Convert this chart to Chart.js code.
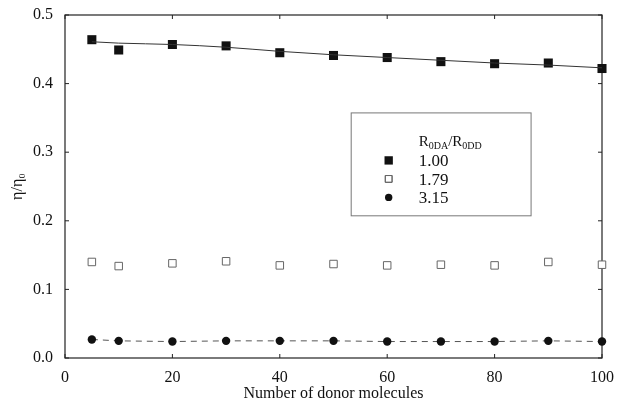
<!DOCTYPE html>
<html>
<head>
<meta charset="utf-8">
<script src="https://cdn.jsdelivr.net/npm/chart.js@4/dist/chart.umd.min.js"></script>
<style>
  html, body { margin: 0; padding: 0; background: #fff; }
  #wrap { width: 620px; height: 404px; }
</style>
</head>
<body>
<div id="wrap"><canvas id="chart" width="620" height="404"></canvas></div>
<script>
const donors = [5, 10, 20, 30, 40, 50, 60, 70, 80, 90, 100];
const ratio100 = [0.464, 0.449, 0.457, 0.455, 0.445, 0.441, 0.438, 0.432, 0.429, 0.430, 0.422];
const fit100 = [0.461, 0.459, 0.457, 0.453, 0.447, 0.442, 0.438, 0.434, 0.430, 0.427, 0.423];
const ratio179 = [0.140, 0.134, 0.138, 0.141, 0.135, 0.137, 0.135, 0.136, 0.135, 0.140, 0.136];
const ratio315 = [0.027, 0.025, 0.024, 0.025, 0.025, 0.025, 0.024, 0.024, 0.024, 0.025, 0.024];
const legendLabels = ['1.00', '1.79', '3.15'];
const yTicks = [0, 0.1, 0.2, 0.3, 0.4, 0.5];
const xTicks = [0, 20, 40, 60, 80, 100];

const SERIF = '"Liberation Serif", "DejaVu Serif", serif';
const pts = vals => donors.map((x, i) => ({ x, y: vals[i] }));

// frame on all four sides of the plot
const frame = {
  id: 'frame',
  beforeDatasetsDraw(chart) {
    const { ctx, chartArea: a } = chart;
    ctx.save();
    ctx.strokeStyle = '#222';
    ctx.lineWidth = 1.2;
    ctx.strokeRect(a.left, a.top, a.right - a.left, a.bottom - a.top);
    // small inward ticks
    ctx.lineWidth = 1;
    const xs = chart.scales.x, ys = chart.scales.y;
    xTicks.forEach(v => {
      const px = xs.getPixelForValue(v);
      ctx.beginPath();
      ctx.moveTo(px, a.bottom); ctx.lineTo(px, a.bottom - 4);
      ctx.moveTo(px, a.top); ctx.lineTo(px, a.top + 4);
      ctx.stroke();
    });
    yTicks.forEach(v => {
      const py = ys.getPixelForValue(v);
      ctx.beginPath();
      ctx.moveTo(a.left, py); ctx.lineTo(a.left + 4, py);
      ctx.moveTo(a.right, py); ctx.lineTo(a.right - 4, py);
      ctx.stroke();
    });
    ctx.restore();
  }
};

// boxed key inside the plot
const keyBox = {
  id: 'keyBox',
  afterDraw(chart) {
    const { ctx } = chart;
    const xs = chart.scales.x, ys = chart.scales.y;
    const left = xs.getPixelForValue(53.2), right = xs.getPixelForValue(86.7);
    const top = ys.getPixelForValue(0.358), bottom = ys.getPixelForValue(0.208);
    ctx.save();
    ctx.strokeStyle = '#777';
    ctx.lineWidth = 1;
    ctx.strokeRect(left + 0.5, top + 0.5, right - left, bottom - top);

    const tx = left + 68, mx = left + 38;
    ctx.fillStyle = '#111';
    ctx.textBaseline = 'alphabetic';
    ctx.textAlign = 'left';
    // header R0DA/R0DD with subscripts
    let x = tx;
    const hy = top + 34;
    const parts = [['R', 15, 0], ['0DA', 10, 3], ['/R', 15, 0], ['0DD', 10, 3]];
    parts.forEach(([t, s, off]) => {
      ctx.font = s + 'px ' + SERIF;
      ctx.fillText(t, x, hy + off);
      x += ctx.measureText(t).width;
    });

    const styles = chart.data.datasets.filter(d => d.keyIndex !== undefined);
    styles.forEach(d => {
      const y = top + 48 + d.keyIndex * 18.5;
      ctx.font = '17px ' + SERIF;
      ctx.fillStyle = '#111';
      ctx.fillText(legendLabels[d.keyIndex], tx, y + 6);
      ctx.fillStyle = d.pointBackgroundColor;
      ctx.strokeStyle = d.pointBorderColor;
      ctx.lineWidth = d.pointBorderWidth;
      Chart.helpers.drawPoint(ctx, { pointStyle: d.pointStyle, radius: d.pointRadius - 0.5, rotation: 0, borderWidth: d.pointBorderWidth }, mx, y);
      if (d.pointBorderWidth) ctx.stroke();
    });
    ctx.restore();
  }
};

new Chart(document.getElementById('chart'), {
  type: 'scatter',
  data: {
    datasets: [
      {
        label: 'fit',
        data: pts(fit100),
        showLine: true,
        cubicInterpolationMode: 'monotone',
        borderColor: '#333',
        borderWidth: 1,
        pointRadius: 0,
      },
      {
        label: '1.00',
        keyIndex: 0,
        data: pts(ratio100),
        pointStyle: 'rect',
        pointRadius: 6.4,
        pointBackgroundColor: '#111',
        pointBorderColor: '#111',
        pointBorderWidth: 0,
      },
      {
        label: '1.79',
        keyIndex: 1,
        data: pts(ratio179),
        pointStyle: 'rect',
        pointRadius: 5.3,
        pointBackgroundColor: '#fff',
        pointBorderColor: '#666',
        pointBorderWidth: 1,
      },
      {
        label: '3.15',
        keyIndex: 2,
        data: pts(ratio315),
        showLine: true,
        borderColor: '#555',
        borderWidth: 1,
        borderDash: [6, 5],
        pointStyle: 'circle',
        pointRadius: 4.2,
        pointBackgroundColor: '#111',
        pointBorderColor: '#111',
        pointBorderWidth: 0,
      },
    ],
  },
  options: {
    responsive: false,
    animation: false,
    clip: false,
    layout: { padding: { left: 0, right: 18, top: 15, bottom: 0 } },
    plugins: { legend: { display: false }, tooltip: { enabled: false } },
    scales: {
      x: {
        type: 'linear',
        min: 0,
        max: 100,
        afterFit(s) {
          s.height = 46;
          s.paddingLeft = 0;
          s.paddingRight = 0;
        },
        afterBuildTicks(s) { s.ticks = xTicks.map(v => ({ value: v })); },
        grid: { display: false, drawTicks: false },
        border: { display: false },
        ticks: { color: '#111', padding: 10, font: { family: SERIF, size: 16 } },
        title: {
          display: true,
          text: 'Number of donor molecules',
          color: '#111',
          padding: { top: 0, bottom: 1 },
          font: { family: SERIF, size: 16 },
        },
      },
      y: {
        min: 0,
        max: 0.5,
        afterFit(s) {
          s.width = 65;
          s.paddingTop = 0;
          s.paddingBottom = 0;
        },
        afterBuildTicks(s) { s.ticks = yTicks.map(v => ({ value: v })); },
        grid: { display: false, drawTicks: false },
        border: { display: false },
        ticks: {
          color: '#111',
          padding: 12,
          font: { family: SERIF, size: 16 },
          callback: v => v.toFixed(1),
        },
        title: {
          display: true,
          text: 'η/η₀',
          color: '#111',
          padding: { top: 8, bottom: 0 },
          font: { family: SERIF, size: 16 },
        },
      },
    },
  },
  plugins: [frame, keyBox],
});
</script>
</body>
</html>
